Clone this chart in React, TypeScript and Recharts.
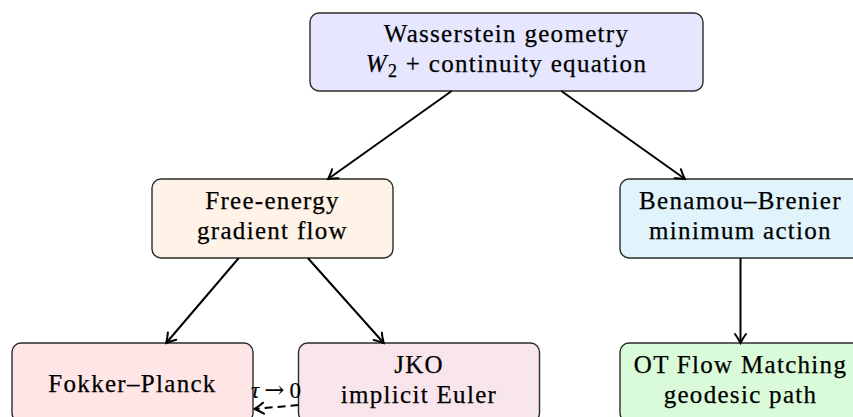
import React from "react";
import { ComposedChart, Line, XAxis, YAxis, ReferenceArea, ReferenceDot } from "recharts";

const W = 853;
const H = 417;

// nodes of the diagram (centres in layout units)
const nodeIds = ["wass", "free", "bb", "fp", "jko", "ot"];
const nodeLines = [
  ["Wasserstein geometry", "W_2 + continuity equation"],
  ["Free-energy", "gradient flow"],
  ["Benamou–Brenier", "minimum action"],
  ["Fokker–Planck"],
  ["JKO", "implicit Euler"],
  ["OT Flow Matching", "geodesic path"],
];
const nodeX = [506.5, 272.5, 740.5, 132.5, 419, 740.5];
const nodeY = [52, 218.5, 218.5, 382.5, 382.5, 382.5];

// solid arrows
const edgeFrom = ["wass", "wass", "free", "free", "bb"];
const edgeTo = ["free", "bb", "fp", "jko", "ot"];

// dashed limit arrow jko -> fp
const limitFrom = "jko";
const limitTo = "fp";
const limitY = [405, 409];
const limitLabel = "τ → 0";

const boxStyle: Record<string, { w: number; h: number; fill: string }> = {
  wass: { w: 393, h: 78, fill: "#e6e6ff" },
  free: { w: 241, h: 79, fill: "#fff2e6" },
  bb: { w: 241, h: 79, fill: "#e1f4fb" },
  fp: { w: 241, h: 79, fill: "#ffe6e6" },
  jko: { w: 241, h: 79, fill: "#f9e5ec" },
  ot: { w: 241, h: 79, fill: "#d9fbd9" },
};

const FONT = "Liberation Serif";
const LINE_H = 30;

const idx = (id: string) => nodeIds.indexOf(id);

function clipPoint(id: string, dx: number, dy: number) {
  const i = idx(id);
  const s = boxStyle[id];
  const k = Math.min(
    dx === 0 ? Infinity : s.w / 2 / Math.abs(dx),
    dy === 0 ? Infinity : s.h / 2 / Math.abs(dy)
  );
  return { x: nodeX[i] + dx * k, y: nodeY[i] + dy * k };
}

const edgeData = edgeFrom.map((a, e) => {
  const b = edgeTo[e];
  const dx = nodeX[idx(b)] - nodeX[idx(a)];
  const dy = nodeY[idx(b)] - nodeY[idx(a)];
  return [clipPoint(a, dx, dy), clipPoint(b, -dx, -dy)];
});

const limitData = [
  { x: nodeX[idx(limitFrom)] - boxStyle[limitFrom].w / 2, y: limitY[0] },
  { x: nodeX[idx(limitTo)] + boxStyle[limitTo].w / 2 + 1.5, y: limitY[1] },
];

function MathLine({ text }: { text: string }) {
  const m = text.match(/^(.*?)([A-Za-z])_(\d)(.*)$/);
  if (!m) return <>{text}</>;
  return (
    <>
      {m[1]}
      <tspan fontStyle="italic">{m[2]}</tspan>
      <tspan dy={5} fontSize={18}>{m[3]}</tspan>
      <tspan dy={-5}>{m[4]}</tspan>
    </>
  );
}

const BoxText = (props: any) => {
  const { viewBox, lines } = props;
  const cx = viewBox.x + viewBox.width / 2;
  const cy = viewBox.y + viewBox.height / 2;
  const off = lines.length === 1 ? 9 : 5;
  const first = cy - ((lines.length - 1) * LINE_H) / 2 + off;
  return (
    <text
      textAnchor="middle"
      fontFamily={FONT}
      fontSize={25}
      letterSpacing={1.3}
      fill="#000"
      stroke="#000"
      strokeWidth={0.25}
    >
      {lines.map((l: string, i: number) => (
        <tspan key={i} x={cx} y={first + i * LINE_H}>
          <MathLine text={l} />
        </tspan>
      ))}
    </text>
  );
};

const LimitText = (props: any) => {
  const { viewBox } = props;
  const x = viewBox.x + (viewBox.width || 0) / 2;
  const [t, arrow, z] = limitLabel.split(" ");
  return (
    <text x={x} y={viewBox.y} textAnchor="middle" fontFamily={FONT} fontSize={23} fill="#000" stroke="#000" strokeWidth={0.2}>
      <tspan fontStyle="italic">{t}</tspan>
      <tspan dx={5} fontFamily="DejaVu Serif" fontSize={24} strokeWidth={0}>{arrow}</tspan>
      <tspan dx={5}>{z}</tspan>
    </text>
  );
};

export default function App() {
  return (
    <div style={{ position: "absolute", left: 0, top: 0, width: W, height: H, background: "#fff" }}>
      <ComposedChart width={W} height={H} margin={{ top: 0, right: 0, bottom: 0, left: 0 }}>
        <defs>
          <marker
            id="tip"
            viewBox="-12 -7 14 14"
            refX={0}
            refY={0}
            markerWidth={14}
            markerHeight={14}
            markerUnits="userSpaceOnUse"
            orient="auto"
          >
            <path d="M -9 -5.5 C -5 -2.5, -1.5 -0.8, 0 0 C -1.5 0.8, -5 2.5, -9 5.5" fill="none" stroke="#000" strokeWidth={2} strokeLinecap="round" />
          </marker>
        </defs>
        <XAxis type="number" dataKey="x" domain={[0, W]} hide allowDataOverflow />
        <YAxis type="number" dataKey="y" domain={[0, H]} reversed hide allowDataOverflow />
        {nodeIds.map((id, i) => (
          <ReferenceArea
            key={id}
            x1={nodeX[i] - boxStyle[id].w / 2}
            x2={nodeX[i] + boxStyle[id].w / 2}
            y1={nodeY[i] - boxStyle[id].h / 2}
            y2={nodeY[i] + boxStyle[id].h / 2}
            fill={boxStyle[id].fill}
            fillOpacity={1}
            stroke="#2b2b2b"
            strokeWidth={1.4}
            radius={9}
            ifOverflow="visible"
            label={<BoxText lines={nodeLines[i]} />}
          />
        ))}
        {edgeData.map((d, e) => (
          <Line
            key={e}
            data={d}
            dataKey="y"
            type="linear"
            stroke="#000"
            strokeWidth={2}
            dot={false}
            activeDot={false}
            markerEnd="url(#tip)"
            isAnimationActive={false}
          />
        ))}
        <Line
          data={limitData}
          dataKey="y"
          type="linear"
          stroke="#000"
          strokeWidth={2}
          strokeDasharray="8 5"
          dot={false}
          activeDot={false}
          markerEnd="url(#tip)"
          isAnimationActive={false}
        />
        <ReferenceDot x={276} y={398} r={0} fill="none" stroke="none" ifOverflow="visible" label={<LimitText />} />
      </ComposedChart>
    </div>
  );
}
